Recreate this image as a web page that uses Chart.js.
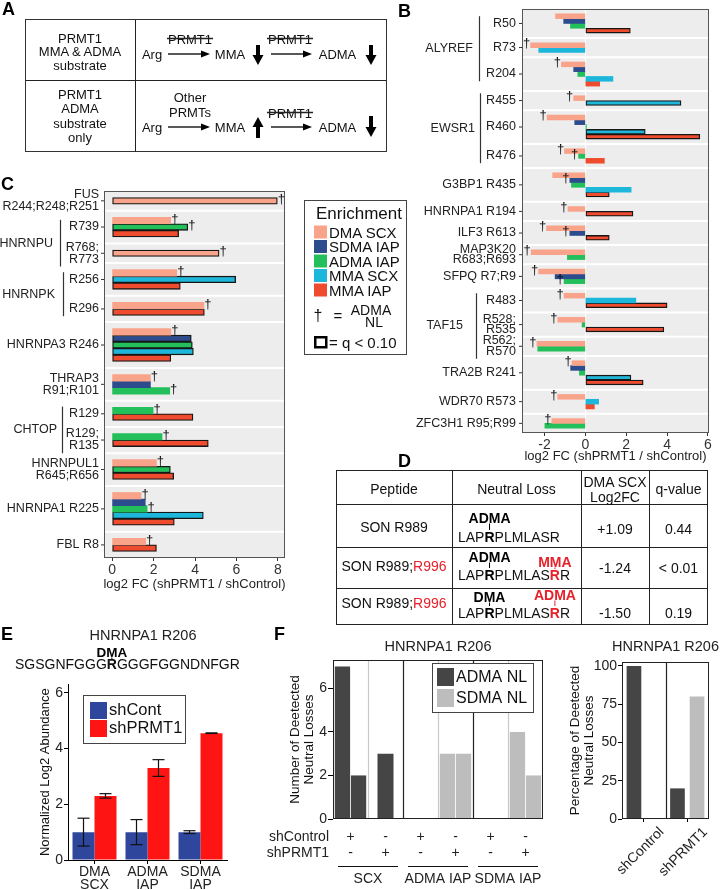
<!DOCTYPE html>
<html>
<head>
<meta charset="utf-8">
<script src="https://cdn.jsdelivr.net/npm/chart.js@4.4.1/dist/chart.umd.min.js"></script>
<style>
  body { margin: 0; background: #fff; }
  #wrap { position: relative; width: 720px; height: 890px; overflow: hidden; }
  canvas { position: absolute; }
  #ov { position: absolute; left: 0; top: 0; font-family: "Liberation Sans", Arial, Helvetica, sans-serif; }
</style>
</head>
<body>
<div id="wrap">
  <canvas id="cB" width="360" height="470" style="left:360px;top:0px"></canvas>
  <canvas id="cC" width="300" height="425" style="left:0px;top:170px"></canvas>
  <canvas id="cE" width="240" height="215" style="left:0px;top:675px"></canvas>
  <canvas id="cF1" width="300" height="250" style="left:250px;top:640px"></canvas>
  <canvas id="cF2" width="160" height="250" style="left:560px;top:640px"></canvas>
  <svg id="ov" width="720" height="890"></svg>
</div>
<script>
// series shared by panels B and C
const seriesNames = ['DMA SCX', 'SDMA IAP', 'ADMA IAP', 'MMA SCX', 'MMA IAP'];
const seriesColors = ['#F8A38A', '#2C4C8D', '#22BF5A', '#1DB7DB', '#EF4B2E'];

// ---- panel B: log2 FC (shPRMT1 / shControl) ----
const bSites = ['R50', 'R73', 'R204', 'R455', 'R460', 'R476', 'G3BP1 R435', 'HNRNPA1 R194', 'ILF3 R613',
  'MAP3K20\nR683;R693', 'SFPQ R7;R9', 'R483', 'R528;\nR535', 'R562;\nR570', 'TRA2B R241', 'WDR70 R573', 'ZFC3H1 R95;R99'];
const bGroups = ['ALYREF', 'ALYREF', 'ALYREF', 'EWSR1', 'EWSR1', 'EWSR1', '', '', '', '', '', 'TAF15', 'TAF15', 'TAF15', '', '', ''];
const bDmaScx  = [-1.46, -2.68, -1.17, -0.57, -1.87, -1.02, -1.60, -0.85, -1.90, -2.65, -2.29, -1.04, -1.35, -2.37, -0.65, -1.35, -1.64];
const bSdmaIap = [-1.06, null, -0.57, null, -0.52, null, -0.76, null, -0.76, null, -1.48, null, null, null, -0.72, null, null];
const bAdmaIap = [-0.73, null, -0.37, null, 0.05, -0.33, -0.68, null, null, -0.88, -1.04, null, -0.16, -2.33, -0.29, null, -1.98];
const bMmaScx  = [null, -2.28, 1.35, 4.68, 2.93, null, 2.24, null, null, null, null, 2.47, null, null, 2.23, 0.65, null];
const bMmaIap  = [2.20, null, 0.70, null, 5.60, 0.93, 1.17, 2.33, 1.17, null, null, 4.00, 3.84, null, 2.83, 0.44, null];
// q < 0.10 (outlined bars)
const bSigDmaScx  = [0,0,0,0,0,0,0,0,0,0,0,0,0,0,0,0,0];
const bSigSdmaIap = [0,0,0,0,0,0,0,0,0,0,0,0,0,0,0,0,0];
const bSigAdmaIap = [0,0,0,0,0,0,0,0,0,0,0,0,0,0,0,0,0];
const bSigMmaScx  = [0,0,0,1,1,0,0,0,0,0,0,0,0,0,1,0,0];
const bSigMmaIap  = [1,0,0,0,1,0,1,1,1,0,0,1,1,0,1,0,0];
// dagger = ADMA neutral loss
const bDagDmaScx  = [0,1,1,1,1,1,0,1,1,1,1,1,1,1,1,1,1];
const bDagSdmaIap = [0,0,0,0,0,0,1,0,1,0,0,0,0,0,0,0,0];
const bDagAdmaIap = [0,0,0,0,0,1,0,0,0,0,1,0,0,0,0,0,0];
const bDagMmaScx  = [0,0,0,0,0,0,0,0,0,0,0,0,0,0,0,0,0];
const bDagMmaIap  = [0,0,0,0,0,0,0,0,0,0,0,0,0,0,0,0,0];
const bTicks = [-2, 0, 2, 4, 6];

// ---- panel C ----
const cSites = ['FUS\nR244;R248;R251', 'R739', 'R768;\nR773', 'R256', 'R296', 'HNRNPA3 R246', 'THRAP3\nR91;R101',
  'R129', 'R129;\nR135', 'HNRNPUL1\nR645;R656', 'HNRNPA1 R225', 'FBL R8'];
const cGroups = ['', 'HNRNPU', 'HNRNPU', 'HNRNPK', 'HNRNPK', '', '', 'CHTOP', 'CHTOP', '', '', ''];
const cDmaScx  = [7.97, 2.83, 5.16, 3.12, 4.43, 2.84, 1.85, null, null, 2.14, 1.40, 1.62];
const cSdmaIap = [null, null, null, null, null, 3.82, 1.85, null, null, null, 1.60, null];
const cAdmaIap = [null, 3.65, null, null, null, 3.87, 2.78, 1.98, 2.41, 2.81, 1.69, null];
const cMmaScx  = [null, null, null, 5.96, null, 3.92, null, null, null, null, 4.40, null];
const cMmaIap  = [null, 3.21, null, 3.29, 4.45, 2.83, null, 3.90, 4.64, 2.97, 3.00, 2.14];
const cSigDmaScx  = [1,0,1,0,0,0,0,0,0,0,0,0];
const cSigSdmaIap = [0,0,0,0,0,1,0,0,0,0,0,0];
const cSigAdmaIap = [0,1,0,0,0,1,0,0,0,1,0,0];
const cSigMmaScx  = [0,0,0,1,0,1,0,0,0,0,1,0];
const cSigMmaIap  = [0,1,0,1,1,1,0,1,1,1,1,1];
const cDagDmaScx  = [1,1,1,1,1,1,1,0,0,1,1,1];
const cDagSdmaIap = [0,0,0,0,0,0,0,0,0,0,0,0];
const cDagAdmaIap = [0,1,0,0,0,0,1,1,1,0,1,0];
const cDagMmaScx  = [0,0,0,0,0,0,0,0,0,0,0,0];
const cDagMmaIap  = [0,0,0,0,0,0,0,0,0,0,0,0];
const cTicks = [0, 2, 4, 6, 8];

// ---- panel E ----
const eCats = [['DMA', 'SCX'], ['ADMA', 'IAP'], ['SDMA', 'IAP']];
const eShCont = [1.0, 1.0, 1.0];
const eShContErr = [0.5, 0.45, 0.05];
const eShPrmt1 = [2.3, 3.3, 4.55];
const eShPrmt1Err = [0.08, 0.3, 0.01];
const eTicks = [0, 2, 4, 6];

// ---- panel F ----
const fCols = ['SCX shControl', 'SCX shPRMT1', 'ADMA IAP shControl', 'ADMA IAP shPRMT1', 'SDMA IAP shControl', 'SDMA IAP shPRMT1'];
const fShControl = ['+', '-', '+', '-', '+', '-'];
const fShPrmt1 = ['-', '+', '-', '+', '-', '+'];
const fEnrich = ['SCX', 'ADMA IAP', 'SDMA IAP'];
const fAdmaNL1 = [7, 3, null, null, null, null];
const fAdmaNL2 = [2, null, null, null, null, null];
const fSdmaNL1 = [null, null, null, 3, null, 4];
const fSdmaNL2 = [null, null, null, 3, null, 2];
const fTicks = [0, 2, 4, 6];
const fpCats = ['shControl', 'shPRMT1'];
const fpAdmaNL = [100, 20];
const fpSdmaNL = [0, 80];
const fpTicks = [0, 25, 50, 75, 100];

const FONT = '"Liberation Sans", Arial, Helvetica, sans-serif';
const font = (size, bold) => (bold ? 'bold ' : '') + size + 'px ' + FONT;
Chart.defaults.font.family = FONT;
Chart.defaults.color = '#222';
const DARK = '#454545', LIGHT = '#BDBDBD';

function txt(ctx, s, x, y, f, align, color) {
  ctx.font = f; ctx.textAlign = align || 'center'; ctx.textBaseline = 'middle';
  ctx.fillStyle = color || '#111'; ctx.fillText(s, x, y);
}
function seg(ctx, x1, y1, x2, y2, color, w) {
  ctx.beginPath(); ctx.strokeStyle = color; ctx.lineWidth = w;
  ctx.moveTo(x1, y1); ctx.lineTo(x2, y2); ctx.stroke();
}
function vtext(ctx, s, x, y, f) {
  ctx.save(); ctx.translate(x, y); ctx.rotate(-Math.PI / 2); txt(ctx, s, 0, 0, f); ctx.restore();
}
function frame(ctx, a, color) {
  ctx.strokeStyle = color; ctx.lineWidth = 1;
  ctx.strokeRect(Math.round(a.left) + 0.5, Math.round(a.top) + 0.5, Math.round(a.width) - 1, Math.round(a.height) - 1);
}
const fixedTicks = vals => s => { s.ticks = vals.map(v => ({ value: v })); };

// horizontal faceted bars: one category slot per bar, one empty slot above and below each peptide
function facetChart(id, o) {
  const labels = [], slotFacet = [], facets = [];
  const data = o.series.map(() => []);
  o.sites.forEach((site, f) => {
    const first = labels.length;
    labels.push('pad' + first); slotFacet.push(f);
    o.series.forEach((vals, s) => {
      if (vals[f] === null) return;
      data[s][labels.length] = vals[f];
      labels.push(site + ' ' + seriesNames[s]); slotFacet.push(f);
    });
    labels.push('pad' + labels.length); slotFacet.push(f);
    facets.push({ first, last: labels.length - 1 });
  });
  data.forEach(d => { for (let i = 0; i < labels.length; i++) if (d[i] === undefined) d[i] = null; });

  const runs = [];
  o.groups.forEach((g, f) => {
    if (!g) return;
    const r = runs[runs.length - 1];
    if (r && r.name === g && r.last === f - 1) r.last = f; else runs.push({ name: g, first: f, last: f });
  });

  const plugin = {
    id: 'facets',
    beforeDatasetsDraw(chart) {
      const { ctx, chartArea: a, scales: { x, y } } = chart;
      const step = y.getPixelForValue(1) - y.getPixelForValue(0);
      ctx.save();
      ctx.fillStyle = '#EDEDED';
      ctx.fillRect(a.left, a.top, a.width, a.height);
      if (o.zeroLine) {
        const x0 = Math.round(x.getPixelForValue(0)) + 0.5;
        seg(ctx, x0, a.top, x0, a.bottom, '#fff', 1.2);
      }
      facets.slice(1).forEach(fc => {
        const yy = y.getPixelForValue(fc.first) - step / 2;
        seg(ctx, a.left, yy, a.right, yy, '#fff', 2);
      });
      ctx.restore();
    },
    afterDatasetsDraw(chart) {
      const { ctx, chartArea: a, scales: { y } } = chart;
      ctx.save();
      frame(ctx, a, '#555');
      o.series.forEach((vals, s) => {
        chart.getDatasetMeta(s).data.forEach((el, i) => {
          const v = data[s][i];
          if (v === null || !o.dag[s][slotFacet[i]]) return;
          const dir = v < 0 ? -1 : 1;
          txt(ctx, '\u2020', el.x + dir * 4, el.y - 1.5, font(13), 'center', '#111');
        });
      });
      const center = fc => (y.getPixelForValue(fc.first) + y.getPixelForValue(fc.last)) / 2;
      const half = f => ((o.sites[f].split('\n').length - 1) * o.lh + o.labelSize) / 2 + 1;
      facets.forEach((fc, f) => {
        const yc = center(fc);
        const lines = o.sites[f].split('\n');
        lines.forEach((t, k) => txt(ctx, t, a.left - o.labelGap, yc + (k - (lines.length - 1) / 2) * o.lh, font(o.labelSize), 'right', '#222'));
        seg(ctx, a.left - 3, yc, a.left, yc, '#333', 1);
      });
      runs.forEach((r, k) => {
        const top = center(facets[r.first]) - half(r.first);
        const bot = center(facets[r.last]) + half(r.last);
        const lx = Math.round(a.left + o.groupLine[k]) + 0.5;
        seg(ctx, lx, top, lx, bot, '#333', 1.2);
        txt(ctx, r.name, a.left + o.groupName[k], (top + bot) / 2, font(o.labelSize), 'right', '#222');
      });
      txt(ctx, 'log2 FC (shPRMT1 / shControl)', (a.left + a.right) / 2, a.bottom + o.titleOffset, font(13), 'center', '#222');
      ctx.restore();
    }
  };

  return new Chart(document.getElementById(id), {
    type: 'bar',
    data: {
      labels,
      datasets: o.series.map((v, s) => ({
        label: seriesNames[s],
        data: data[s],
        backgroundColor: seriesColors[s],
        borderColor: '#161616',
        borderWidth: c => (o.sig[s][slotFacet[c.dataIndex]] ? 1.3 : 0),
        borderSkipped: false,
        grouped: false,
        barPercentage: 1,
        categoryPercentage: 1
      }))
    },
    options: {
      indexAxis: 'y', responsive: false, animation: false,
      layout: { padding: o.pad },
      plugins: { legend: { display: false }, tooltip: { enabled: false } },
      scales: {
        y: { ticks: { display: false }, grid: { display: false }, border: { display: false },
             afterFit: s => { s.width = o.yWidth; } },
        x: { min: o.min, max: o.max, afterBuildTicks: fixedTicks(o.ticks),
             ticks: { font: { size: 14 }, color: '#333', padding: 1 },
             grid: { drawOnChartArea: false, tickLength: 3, color: '#333' },
             border: { display: false },
             afterFit: s => { s.height = o.xHeight; } }
      }
    },
    plugins: [plugin]
  });
}

facetChart('cB', {
  sites: bSites, groups: bGroups,
  series: [bDmaScx, bSdmaIap, bAdmaIap, bMmaScx, bMmaIap],
  sig: [bSigDmaScx, bSigSdmaIap, bSigAdmaIap, bSigMmaScx, bSigMmaIap],
  dag: [bDagDmaScx, bDagSdmaIap, bDagAdmaIap, bDagMmaScx, bDagMmaIap],
  min: -3.1, max: 6.05, ticks: bTicks,
  pad: { left: 0, top: 9, right: 11, bottom: 0 }, yWidth: 162, xHeight: 37,
  labelSize: 12.5, lh: 10.5, labelGap: 6,
  groupLine: [-43, -42, -46], groupName: [-49, -47, -59],
  titleOffset: 23, zeroLine: true
});

facetChart('cC', {
  sites: cSites, groups: cGroups,
  series: [cDmaScx, cSdmaIap, cAdmaIap, cMmaScx, cMmaIap],
  sig: [cSigDmaScx, cSigSdmaIap, cSigAdmaIap, cSigMmaScx, cSigMmaIap],
  dag: [cDagDmaScx, cDagSdmaIap, cDagAdmaIap, cDagMmaScx, cDagMmaIap],
  min: -0.39, max: 8.34, ticks: cTicks,
  pad: { left: 0, top: 21, right: 15, bottom: 0 }, yWidth: 104, xHeight: 37,
  labelSize: 12.5, lh: 12, labelGap: 5,
  groupLine: [-44, -41, -42], groupName: [-51, -49, -47],
  titleOffset: 26, zeroLine: false
});

// ---- E: grouped bars with error bars ----
const ePlugin = {
  id: 'eExtras',
  afterDatasetsDraw(chart) {
    const { ctx, chartArea: a, scales: { y } } = chart;
    ctx.save();
    chart.data.datasets.forEach((ds, di) => {
      chart.getDatasetMeta(di).data.forEach((el, i) => {
        const v = ds.data[i], e = ds.err[i];
        const yt = y.getPixelForValue(v + e), yb = y.getPixelForValue(v - e);
        seg(ctx, el.x, yt, el.x, yb, '#111', 1.2);
        seg(ctx, el.x - 6, yt, el.x + 6, yt, '#111', 1.2);
        seg(ctx, el.x - 6, yb, el.x + 6, yb, '#111', 1.2);
      });
    });
    ctx.fillStyle = '#fff'; ctx.fillRect(83, 20, 102, 48);
    ctx.strokeStyle = '#444'; ctx.lineWidth = 1; ctx.strokeRect(83.5, 20.5, 102, 48);
    chart.data.datasets.forEach((ds, di) => {
      const cy = 35 + di * 18;
      ctx.fillStyle = ds.backgroundColor; ctx.fillRect(90, cy - 8, 17, 17);
      txt(ctx, ds.label, 109, cy + 0.5, font(16.5), 'left', '#111');
    });
    vtext(ctx, 'Normalized Log2 Abundance', 45, (a.top + a.bottom) / 2, font(13));
    ctx.restore();
  }
};
new Chart(document.getElementById('cE'), {
  type: 'bar',
  data: {
    labels: eCats,
    datasets: [
      { label: 'shCont', data: eShCont, err: eShContErr, backgroundColor: '#2E469C', categoryPercentage: 0.83, barPercentage: 1 },
      { label: 'shPRMT1', data: eShPrmt1, err: eShPrmt1Err, backgroundColor: '#FF1414', categoryPercentage: 0.83, barPercentage: 1 }
    ]
  },
  options: {
    responsive: false, animation: false,
    layout: { padding: { left: 0, top: 8, right: 13, bottom: 0 } },
    plugins: { legend: { display: false }, tooltip: { enabled: false } },
    scales: {
      x: { ticks: { font: { size: 14, lineHeight: 0.9 }, color: '#222', padding: 2 },
           grid: { offset: false, drawOnChartArea: false, tickLength: 4, color: '#000' },
           border: { color: '#000' }, afterFit: s => { s.height = 30; } },
      y: { min: 0, max: 6.3, afterBuildTicks: fixedTicks(eTicks),
           ticks: { font: { size: 14 }, color: '#222', padding: 1 },
           grid: { drawOnChartArea: false, tickLength: 4, color: '#000' },
           border: { color: '#000' }, afterFit: s => { s.width = 68; } }
    }
  },
  plugins: [ePlugin]
});

// ---- F left: counts of detected neutral losses ----
const f1Plugin = {
  id: 'f1Extras',
  beforeDatasetsDraw(chart) {
    const { ctx, chartArea: a, scales: { x } } = chart;
    ctx.save();
    for (let i = 1; i < fCols.length; i++) {
      const bx = Math.round((x.getPixelForValue(i - 1) + x.getPixelForValue(i)) / 2) + 0.5;
      seg(ctx, bx, a.top, bx, a.bottom, i % 2 === 0 ? '#222' : '#C8C8C8', 1.2);
    }
    ctx.restore();
  },
  afterDraw(chart) {
    const { ctx, chartArea: a, scales: { x } } = chart;
    ctx.save();
    frame(ctx, a, '#222');
    txt(ctx, 'HNRNPA1 R206', (a.left + a.right) / 2, 7, font(14.5), 'center', '#222');
    // legend
    ctx.fillStyle = '#fff'; ctx.fillRect(182, 23, 101, 49);
    ctx.strokeStyle = '#444'; ctx.lineWidth = 1; ctx.strokeRect(182.5, 23.5, 101, 49);
    [['ADMA NL', DARK], ['SDMA NL', LIGHT]].forEach(([t, c], k) => {
      const cy = 37 + k * 21;
      ctx.fillStyle = c; ctx.fillRect(187, cy - 9, 17, 18);
      txt(ctx, t, 206, cy + 0.5, font(16), 'left', '#111');
    });
    // condition rows under the axis
    txt(ctx, 'shControl', 79, 197, font(14), 'right', '#222');
    txt(ctx, 'shPRMT1', 79, 213, font(14), 'right', '#222');
    fCols.forEach((c, i) => {
      const cx = x.getPixelForValue(i);
      txt(ctx, fShControl[i], cx, 197, font(14), 'center', '#222');
      txt(ctx, fShPrmt1[i], cx, 213, font(14), 'center', '#222');
    });
    const step = x.getPixelForValue(1) - x.getPixelForValue(0);
    fEnrich.forEach((g, k) => {
      const l = x.getPixelForValue(2 * k) - step / 2, r = x.getPixelForValue(2 * k + 1) + step / 2;
      seg(ctx, l + 5, 226.5, r - 5, 226.5, '#111', 1.2);
      txt(ctx, g, (l + r) / 2, 239, font(14), 'center', '#222');
    });
    vtext(ctx, 'Number of Deetected', 45, (a.top + a.bottom) / 2, font(13.5));
    vtext(ctx, 'Neutral Losses', 59, (a.top + a.bottom) / 2, font(13.5));
    ctx.restore();
  }
};
const fBar = (label, data, color) => ({ label, data, backgroundColor: color, skipNull: true,
  categoryPercentage: 0.92, barPercentage: 0.95, maxBarThickness: 16 });
new Chart(document.getElementById('cF1'), {
  type: 'bar',
  data: {
    labels: fCols,
    datasets: [fBar('ADMA NL', fAdmaNL1, DARK), fBar('ADMA NL', fAdmaNL2, DARK),
               fBar('SDMA NL', fSdmaNL1, LIGHT), fBar('SDMA NL', fSdmaNL2, LIGHT)]
  },
  options: {
    responsive: false, animation: false,
    layout: { padding: { left: 0, top: 20, right: 7, bottom: 0 } },
    plugins: { legend: { display: false }, tooltip: { enabled: false } },
    scales: {
      x: { ticks: { display: false }, grid: { display: false }, border: { display: false },
           afterFit: s => { s.height = 71; } },
      y: { min: 0, max: 7.3, afterBuildTicks: fixedTicks(fTicks),
           ticks: { font: { size: 14 }, color: '#222', padding: 1 },
           grid: { drawOnChartArea: false, tickLength: 5, color: '#000' },
           border: { display: false }, afterFit: s => { s.width = 83; } }
    }
  },
  plugins: [f1Plugin]
});

// ---- F right: percentages ----
const f2Plugin = {
  id: 'f2Extras',
  afterDraw(chart) {
    const { ctx, chartArea: a, scales: { x } } = chart;
    ctx.save();
    frame(ctx, a, '#222');
    const bx = Math.round((x.getPixelForValue(0) + x.getPixelForValue(1)) / 2) + 0.5;
    seg(ctx, bx, a.top, bx, a.bottom, '#222', 1.2);
    txt(ctx, 'HNRNPA1 R206', (a.left + a.right) / 2, 7, font(14.5), 'center', '#222');
    vtext(ctx, 'Percentage of Deetected', 15, (a.top + a.bottom) / 2, font(13.5));
    vtext(ctx, 'Neutral Losses', 29, (a.top + a.bottom) / 2, font(13.5));
    ctx.restore();
  }
};
new Chart(document.getElementById('cF2'), {
  type: 'bar',
  data: {
    labels: fpCats,
    datasets: [
      { label: 'ADMA NL', data: fpAdmaNL, backgroundColor: DARK, categoryPercentage: 0.9, barPercentage: 0.75 },
      { label: 'SDMA NL', data: fpSdmaNL, backgroundColor: LIGHT, categoryPercentage: 0.9, barPercentage: 0.75 }
    ]
  },
  options: {
    responsive: false, animation: false,
    layout: { padding: { left: 0, top: 22, right: 11, bottom: 0 } },
    plugins: { legend: { display: false }, tooltip: { enabled: false } },
    scales: {
      x: { ticks: { font: { size: 14 }, color: '#222', padding: 2, minRotation: 45, maxRotation: 45, autoSkip: false, labelOffset: 18 },
           grid: { offset: false, drawOnChartArea: false, tickLength: 3, color: '#000' },
           border: { display: false }, afterFit: s => { s.height = 71; } },
      y: { min: 0, max: 102.6, afterBuildTicks: fixedTicks(fpTicks),
           ticks: { font: { size: 14 }, color: '#222', padding: 1 },
           grid: { drawOnChartArea: false, tickLength: 4, color: '#000' },
           border: { display: false }, afterFit: s => { s.width = 62; } }
    }
  },
  plugins: [f2Plugin]
});

// ---- SVG overlay: panel letters, diagram A, legend, table D, header of E ----
const NS = 'http://www.w3.org/2000/svg';
const ov = document.getElementById('ov');
function T(x, y, t, o) {
  o = o || {};
  return `<text x="${x}" y="${y}" font-size="${o.size || 13}" text-anchor="${o.anchor || 'middle'}" dominant-baseline="central"` +
    `${o.bold ? ' font-weight="bold"' : ''} fill="${o.fill || '#111'}"${o.id ? ' id="' + o.id + '"' : ''}>${t}</text>`;
}
const L = (x1, y1, x2, y2, w) => `<line x1="${x1}" y1="${y1}" x2="${x2}" y2="${y2}" stroke="#222" stroke-width="${w || 1}"/>`;
const arrowR = (x1, x2, y) => L(x1, y, x2 - 7, y, 1.6) + `<path d="M${x2},${y} L${x2 - 9},${y - 3.5} L${x2 - 9},${y + 3.5}Z" fill="#000"/>`;
const thickDown = (x, y1, y2) => `<rect x="${x - 2}" y="${y1}" width="4" height="${y2 - 10 - y1}" fill="#000"/><path d="M${x - 5.5},${y2 - 10} L${x + 5.5},${y2 - 10} L${x},${y2}Z" fill="#000"/>`;
const thickUp = (x, y1, y2) => `<rect x="${x - 2}" y="${y1 + 10}" width="4" height="${y2 - 10 - y1}" fill="#000"/><path d="M${x - 5.5},${y1 + 10} L${x + 5.5},${y1 + 10} L${x},${y1}Z" fill="#000"/>`;
const struck = (x, y) => T(x, y, 'PRMT1') + L(x - 23, y - 0.5, x + 23, y - 0.5, 1.3);

let s = '';
// panel letters
[['A', 2, 8.5], ['B', 398, 10.5], ['C', 1, 183.5], ['D', 398, 460.5], ['E', 1, 633.5], ['F', 274, 633.5]]
  .forEach(([t, x, y]) => { s += T(x, y, t, { size: 18, bold: true, anchor: 'start', fill: '#000' }); });

// A
s += `<rect x="25.5" y="19.5" width="361" height="132" fill="none" stroke="#333"/>`;
s += L(135.5, 19.5, 135.5, 151.5) + L(25.5, 80.5, 386.5, 80.5);
[['PRMT1', 38], ['MMA &amp; ADMA', 51.5], ['substrate', 65], ['PRMT1', 94], ['ADMA', 108.5], ['substrate', 123], ['only', 137]]
  .forEach(([t, y]) => { s += T(80, y, t); });
s += T(152, 54, 'Arg') + arrowR(168, 210, 54) + struck(190, 39) + T(230, 54, 'MMA') + thickDown(258, 45, 65) +
     arrowR(271, 312, 54) + struck(290, 39) + T(337.5, 54, 'ADMA') + thickDown(371, 45, 65);
s += T(190, 97, 'Other') + T(190, 112, 'PRMTs');
s += T(152, 127, 'Arg') + arrowR(168, 210, 127) + T(230, 127, 'MMA') + thickUp(258, 117, 138) +
     arrowR(271, 312, 127) + struck(290, 113) + T(337.5, 127, 'ADMA') + thickDown(371, 116, 137);

// enrichment legend
s += `<rect x="304.5" y="200.5" width="102" height="154" fill="#fff" stroke="#444"/>`;
s += T(316, 213, 'Enrichment', { size: 17, anchor: 'start' });
seriesNames.forEach((n, i) => {
  const cy = 232 + i * 14.5;
  s += `<rect x="314" y="${cy - 6.5}" width="13" height="13" fill="${seriesColors[i]}"/>`;
  s += T(329, cy, n, { size: 15, anchor: 'start' });
});
s += T(318, 315, '\u2020', { size: 16 }) + T(338, 315, '=', { size: 15 }) + T(371, 310, 'ADMA', { size: 14 }) + T(374, 322, 'NL', { size: 14 });
s += `<rect x="315.25" y="337.25" width="11" height="10" fill="none" stroke="#000" stroke-width="2.5"/>`;
s += T(329, 342, '= q &lt; 0.10', { size: 15, anchor: 'start' });

// D table
s += `<rect x="336.5" y="470.5" width="371" height="154" fill="none" stroke="#222"/>`;
[452.5, 581.5, 649.5].forEach(x => { s += L(x, 470.5, x, 624.5); });
[504.5, 547.5, 588.5].forEach(y => { s += L(336.5, y, 707.5, y); });
s += T(394, 489, 'Peptide', { size: 14 }) + T(516.5, 489, 'Neutral Loss', { size: 14 }) +
     T(615, 482, 'DMA SCX', { size: 14 }) + T(615, 497, 'Log2FC', { size: 14 }) + T(678.5, 489, 'q-value', { size: 14 });
const RED = '#E8202A';
const dRows = [
  { pep: 'SON R989', red: '', py: 527, seq: 'LAPRPLMLASR', sy: 537, marks: [[3, 'ADMA', '#000', 518]], fc: '+1.09', q: '0.44', vy: 529 },
  { pep: 'SON R989;', red: 'R996', py: 566, seq: 'LAPRPLMLASRR', sy: 575, marks: [[3, 'ADMA', '#000', 557], [10, 'MMA', RED, 562]], fc: '-1.24', q: '&lt; 0.01', vy: 568 },
  { pep: 'SON R989;', red: 'R996', py: 603, seq: 'LAPRPLMLASRR', sy: 613, marks: [[3, 'DMA', '#000', 597], [10, 'ADMA', RED, 595]], fc: '-1.50', q: '0.19', vy: 613 }
];
dRows.forEach((r, k) => {
  s += `<text x="394" y="${r.py}" font-size="14" text-anchor="middle" dominant-baseline="central" fill="#111">${r.pep}<tspan fill="${RED}">${r.red}</tspan></text>`;
  let seq = '';
  r.seq.split('').forEach((ch, i) => {
    const m = r.marks.find(mm => mm[0] === i);
    seq += m ? `<tspan font-weight="bold" fill="${m[2]}">${ch}</tspan>` : ch;
  });
  s += `<text id="dseq${k}" x="458" y="${r.sy}" font-size="14" dominant-baseline="central" fill="#111">${seq}</text>`;
  s += T(615, r.vy, r.fc, { size: 14 }) + T(678.5, r.vy, r.q, { size: 14 });
});

// E header
s += T(143, 635, 'HNRNPA1 R206', { size: 14.5, fill: '#222' });
s += `<text id="eseq" x="15" y="664" font-size="14" dominant-baseline="central" fill="#111">SGSGNFGGG<tspan font-weight="bold">R</tspan>GGGFGGNDNFGR</text>`;
ov.innerHTML = s;

function markAbove(seqId, idx, label, color, ly, size) {
  const el = document.getElementById(seqId);
  const e = el.getExtentOfChar(idx);
  const cx = e.x + e.width / 2;
  const t = document.createElementNS(NS, 'text');
  t.setAttribute('x', cx); t.setAttribute('y', ly);
  t.setAttribute('font-size', size); t.setAttribute('font-weight', 'bold');
  t.setAttribute('text-anchor', 'middle'); t.setAttribute('dominant-baseline', 'central');
  t.setAttribute('fill', color); t.textContent = label;
  ov.appendChild(t);
  const ln = document.createElementNS(NS, 'line');
  ln.setAttribute('x1', cx); ln.setAttribute('x2', cx);
  ln.setAttribute('y1', ly + 5.5); ln.setAttribute('y2', Math.max(ly + 7, e.y + 1));
  ln.setAttribute('stroke', color); ln.setAttribute('stroke-width', 1);
  ov.appendChild(ln);
}
dRows.forEach((r, k) => r.marks.forEach(m => markAbove('dseq' + k, m[0], m[1], m[2], m[3], 14)));
markAbove('eseq', 9, 'DMA', '#000', 652, 13.5);
</script>
</body>
</html>
